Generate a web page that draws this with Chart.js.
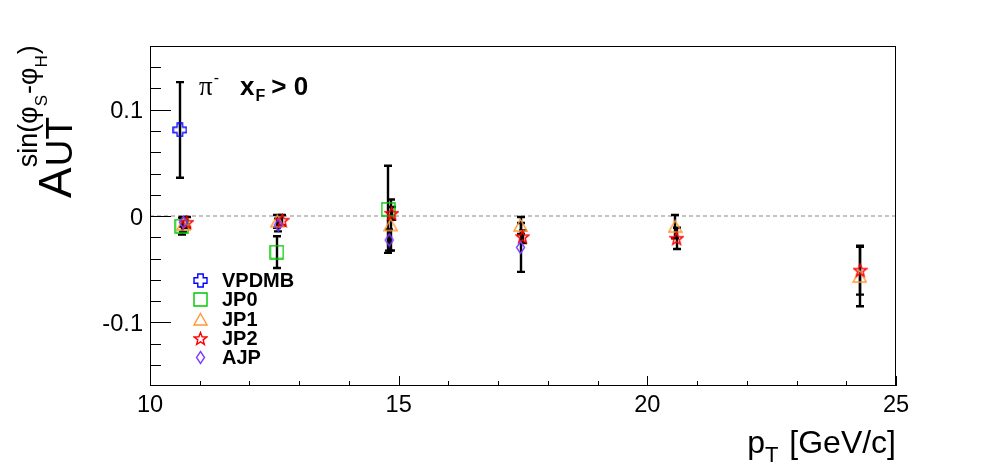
<!DOCTYPE html>
<html>
<head>
<meta charset="utf-8">
<script src="https://cdn.jsdelivr.net/npm/chart.js@4.4.0/dist/chart.umd.min.js"></script>
<style>
    html, body { margin: 0; padding: 0; background: #fff; }
    canvas { display: block; }
</style>
</head>
<body>
<canvas id="chart1" width="996" height="472"></canvas>
<script>
// values
const vpdmbX = [10.60];
const vpdmbY = [0.081];
const vpdmbErr = [0.045];

const jp0X = [10.64, 12.55, 14.79];
const jp0Y = [-0.0095, -0.034, 0.0063];
const jp0Err = [0.008, 0.015, 0.041];

const jp1X = [10.67, 12.56, 14.84, 17.45, 20.56, 24.27];
const jp1Y = [-0.008, -0.005, -0.0085, -0.009, -0.010, -0.057];
const jp1Err = [0.007, 0.006, 0.024, 0.008, 0.011, 0.028];

const jp2X = [10.74, 12.66, 14.86, 17.49, 20.59, 24.28];
const jp2Y = [-0.006, -0.004, 0.0025, -0.0195, -0.021, -0.051];
const jp2Err = [0.005, 0.005, 0.006, 0.006, 0.010, 0.023];

const ajpX = [10.67, 12.58, 14.81, 17.45];
const ajpY = [-0.006, -0.0085, -0.0226, -0.0296];
const ajpErr = [0.004, 0.006, 0.010, 0.023];

const xTickLabels = [10, 15, 20, 25];
const xMinorTicks = [11, 12, 13, 14, 16, 17, 18, 19, 21, 22, 23, 24];
const yTickLabels = [-0.1, 0, 0.1];
const yMinorTicks = [-0.14, -0.12, -0.08, -0.06, -0.04, -0.02, 0.02, 0.04, 0.06, 0.08, 0.12, 0.14];

const FONT = '"Liberation Sans", Arial, sans-serif';

function makeMarker(kind, color) {
    const w = kind === 'diamond' ? 11 : 15;
    const h = 15;
    const c = document.createElement('canvas');
    c.width = w; c.height = h;
    const g = c.getContext('2d');
    g.strokeStyle = color;
    g.lineWidth = 1.4;
    g.beginPath();
    const mx = w / 2, my = h / 2;
    if (kind === 'cross') {
        const a = 2.7, e = 6.5;
        const pts = [[-a,-e],[a,-e],[a,-a],[e,-a],[e,a],[a,a],[a,e],[-a,e],[-a,a],[-e,a],[-e,-a],[-a,-a]];
        pts.forEach((p, i) => i ? g.lineTo(mx + p[0], my + p[1]) : g.moveTo(mx + p[0], my + p[1]));
    } else if (kind === 'square') {
        g.rect(1, 1, w - 2, h - 2);
    } else if (kind === 'triangle') {
        g.moveTo(mx, 1.5); g.lineTo(w - 1, h - 2); g.lineTo(1, h - 2);
    } else if (kind === 'star') {
        for (let i = 0; i < 10; i++) {
            const r = i % 2 ? 2.8 : 6.6;
            const ang = -Math.PI / 2 + i * Math.PI / 5;
            const px = mx + r * Math.cos(ang), py = my + 0.5 + r * Math.sin(ang);
            i ? g.lineTo(px, py) : g.moveTo(px, py);
        }
    } else if (kind === 'diamond') {
        g.moveTo(mx, 1.5); g.lineTo(w - 1.5, my); g.lineTo(mx, h - 1.5); g.lineTo(1.5, my);
    }
    g.closePath();
    g.stroke();
    return c;
}

const series = [
    { name: 'VPDMB', xs: vpdmbX, ys: vpdmbY, errs: vpdmbErr, marker: makeMarker('cross', '#0000ff') },
    { name: 'JP0', xs: jp0X, ys: jp0Y, errs: jp0Err, marker: makeMarker('square', '#00c800') },
    { name: 'JP1', xs: jp1X, ys: jp1Y, errs: jp1Err, marker: makeMarker('triangle', '#ff9933') },
    { name: 'JP2', xs: jp2X, ys: jp2Y, errs: jp2Err, marker: makeMarker('star', '#ff0000') },
    { name: 'AJP', xs: ajpX, ys: ajpY, errs: ajpErr, marker: makeMarker('diamond', '#7f3fff') }
];

function drawRich(g, parts, x, y) {
    // parts: [text, font, dy, extra gap]
    let cx = x;
    parts.forEach(p => {
        g.font = p[1];
        g.fillText(p[0], cx, y + (p[2] || 0));
        cx += g.measureText(p[0]).width + (p[3] || 0);
    });
}

const rootStyle = {
    id: 'rootStyle',
    beforeDraw(chart) {
        const g = chart.ctx;
        g.save();
        g.fillStyle = '#fff';
        g.fillRect(0, 0, chart.width, chart.height);
        g.restore();
    },
    beforeDatasetsDraw(chart) {
        const g = chart.ctx;
        const xs = chart.scales.x, ys = chart.scales.y;
        const a = chart.chartArea;
        g.save();
        // zero line
        g.strokeStyle = '#c4c4c4';
        g.lineWidth = 2;
        g.setLineDash([4, 3]);
        g.beginPath();
        g.moveTo(a.left, ys.getPixelForValue(0));
        g.lineTo(a.right, ys.getPixelForValue(0));
        g.stroke();
        g.setLineDash([]);
        // error bars
        g.strokeStyle = '#000';
        g.lineWidth = 2.4;
        series.forEach(s => {
            s.xs.forEach((xv, i) => {
                const px = Math.round(xs.getPixelForValue(xv));
                const top = ys.getPixelForValue(s.ys[i] + s.errs[i]);
                const bot = ys.getPixelForValue(s.ys[i] - s.errs[i]);
                g.beginPath();
                g.moveTo(px, top); g.lineTo(px, bot);
                g.moveTo(px - 4, top); g.lineTo(px + 4, top);
                g.moveTo(px - 4, bot); g.lineTo(px + 4, bot);
                g.stroke();
            });
        });
        g.restore();
    },
    afterDatasetsDraw(chart) {
        const g = chart.ctx;
        const xs = chart.scales.x, ys = chart.scales.y;
        const a = chart.chartArea;
        g.save();
        g.strokeStyle = '#000';
        g.fillStyle = '#000';
        g.lineWidth = 1;
        g.strokeRect(a.left + 0.5, a.top + 0.5, a.right - a.left - 1, a.bottom - a.top - 1);

        g.beginPath();
        yTickLabels.forEach(v => {
            const py = Math.round(ys.getPixelForValue(v)) + 0.5;
            g.moveTo(a.left, py); g.lineTo(a.left + 21, py);
        });
        yMinorTicks.forEach(v => {
            const py = Math.round(ys.getPixelForValue(v)) + 0.5;
            g.moveTo(a.left, py); g.lineTo(a.left + 11, py);
        });
        xTickLabels.forEach(v => {
            const px = Math.round(xs.getPixelForValue(v)) + 0.5;
            g.moveTo(px, a.bottom); g.lineTo(px, a.bottom - 10);
        });
        xMinorTicks.forEach(v => {
            const px = Math.round(xs.getPixelForValue(v)) + 0.5;
            g.moveTo(px, a.bottom); g.lineTo(px, a.bottom - 5);
        });
        g.stroke();

        // tick labels
        g.font = '23.6px ' + FONT;
        g.textBaseline = 'alphabetic';
        g.textAlign = 'right';
        yTickLabels.forEach(v => {
            g.fillText(String(v), a.left - 7, ys.getPixelForValue(v) + 8.5);
        });
        g.textAlign = 'center';
        xTickLabels.forEach(v => {
            g.fillText(String(v), xs.getPixelForValue(v), a.bottom + 26);
        });

        // x title
        g.textAlign = 'left';
        const xt = [['p', '32px ' + FONT, 0], ['T', '22px ' + FONT, 9, 2], [' [GeV/c]', '32px ' + FONT, 0]];
        let wsum = 0;
        xt.forEach(p => { g.font = p[1]; wsum += g.measureText(p[0]).width + (p[3] || 0); });
        drawRich(g, xt, a.right - wsum, 453);

        // y title
        g.save();
        g.translate(71, 198);
        g.rotate(-Math.PI / 2);
        g.font = '46px ' + FONT;
        g.fillText('A', 0, 0);
        const wA = g.measureText('A').width;
        g.font = '37px ' + FONT;
        g.fillText('UT', wA + 1, 1);
        drawRich(g, [
            ['sin(\u03c6', '27px ' + FONT, 0],
            ['S', '17px ' + FONT, 10, 1],
            ['-\u03c6', '27px ' + FONT, 0],
            ['H', '17px ' + FONT, 10, 1],
            [')', '27px ' + FONT, 0]
        ], wA + 0, -34);
        g.restore();

        // pi- xF > 0
        drawRich(g, [
            ['\u03c0', '27px "Liberation Serif", serif', 0, 1],
            ['-', '16px ' + FONT, -12]
        ], 199, 95);
        drawRich(g, [
            ['x', 'bold 26px ' + FONT, 0, 1],
            ['F', 'bold 16px ' + FONT, 6, 6],
            ['> 0', 'bold 26px ' + FONT, 0]
        ], 240, 95);

        // legend
        const rowY = [280, 299, 319, 338, 357];
        g.font = 'bold 20px ' + FONT;
        g.textBaseline = 'middle';
        series.forEach((s, i) => {
            const m = s.marker;
            g.drawImage(m, Math.round(200 - m.width / 2), Math.round(rowY[i] - m.height / 2));
            g.fillText(s.name, 222, rowY[i] + 1);
        });
        g.restore();
    }
};

const ctx1 = document.getElementById('chart1').getContext('2d');
const myChart1 = new Chart(ctx1, {
    type: 'scatter',
    data: {
        datasets: series.map(s => ({
            label: s.name,
            data: s.xs.map((x, i) => ({ x: x, y: s.ys[i] })),
            pointStyle: s.marker,
            pointRadius: 7,
            showLine: false
        })).reverse()
    },
    options: {
        responsive: false,
        animation: false,
        devicePixelRatio: 1,
        layout: { padding: { left: 150, right: 100, top: 46, bottom: 86 } },
        plugins: { legend: { display: false }, tooltip: { enabled: false } },
        scales: {
            x: { type: 'linear', min: 10, max: 25, display: false },
            y: { type: 'linear', min: -0.16, max: 0.16, display: false }
        }
    },
    plugins: [rootStyle]
});
</script>
</body>
</html>
